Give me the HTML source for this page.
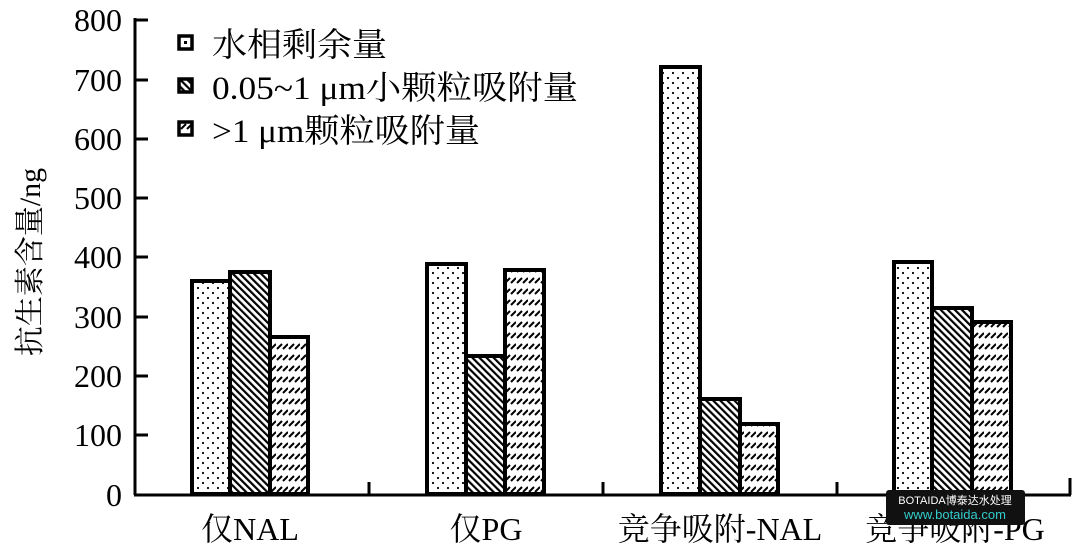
<!DOCTYPE html>
<html><head><meta charset="utf-8"><style>
html,body{margin:0;padding:0;background:#fff;width:1077px;height:554px;overflow:hidden}
text{font-family:"Liberation Serif","Noto Serif CJK SC","Noto Sans CJK SC",serif;fill:#000}
</style></head><body>
<svg width="1077" height="554" viewBox="0 0 1077 554" xmlns="http://www.w3.org/2000/svg">
<defs>
<pattern id="dots" width="10" height="10" patternUnits="userSpaceOnUse">
<rect width="10" height="10" fill="#fff"/><circle cx="3" cy="3" r="1.1" fill="#000"/><circle cx="8" cy="8" r="1.1" fill="#000"/>
</pattern>
<pattern id="diag" width="5" height="5" patternUnits="userSpaceOnUse" patternTransform="rotate(-45)">
<rect width="5" height="5" fill="#fff"/><rect width="2.2" height="5" fill="#000"/>
</pattern>
<pattern id="dash" width="12" height="11" patternUnits="userSpaceOnUse">
<rect width="12" height="11" fill="#fff"/>
<line x1="1" y1="8" x2="6" y2="3" stroke="#000" stroke-width="2"/>
<line x1="7" y1="8" x2="12" y2="3" stroke="#000" stroke-width="2"/>
</pattern>
</defs>
<g stroke="#000" stroke-width="3" fill="none">
<line x1="135" y1="18" x2="135" y2="495"/>
<line x1="134" y1="495" x2="1071" y2="495"/>
<line x1="135" y1="20" x2="148" y2="20"/>
<line x1="135" y1="80" x2="148" y2="80"/>
<line x1="135" y1="139" x2="148" y2="139"/>
<line x1="135" y1="198" x2="148" y2="198"/>
<line x1="135" y1="257" x2="148" y2="257"/>
<line x1="135" y1="317" x2="148" y2="317"/>
<line x1="135" y1="376" x2="148" y2="376"/>
<line x1="135" y1="435" x2="148" y2="435"/>
<line x1="369" y1="495" x2="369" y2="482"/>
<line x1="603" y1="495" x2="603" y2="482"/>
<line x1="837" y1="495" x2="837" y2="482"/>
<line x1="1070" y1="495" x2="1070" y2="478"/>
</g>
<g font-size="32" text-anchor="end">
<text x="122" y="31">800</text><text x="122" y="91">700</text><text x="122" y="150">600</text>
<text x="122" y="209">500</text><text x="122" y="268">400</text><text x="122" y="328">300</text>
<text x="122" y="387">200</text><text x="122" y="446">100</text><text x="122" y="506">0</text>
</g>
<text transform="translate(40,262) rotate(-90)" font-size="30" text-anchor="middle">抗生素含量/ng</text>
<g stroke="#000" stroke-width="4">
<rect x="192" y="281" width="38" height="213" fill="url(#dots)"/>
<rect x="230" y="272" width="40" height="222" fill="url(#diag)"/>
<rect x="270" y="337" width="38" height="157" fill="url(#dash)"/>
<rect x="427" y="264" width="39" height="230" fill="url(#dots)"/>
<rect x="466" y="356" width="39" height="138" fill="url(#diag)"/>
<rect x="505" y="270" width="39" height="224" fill="url(#dash)"/>
<rect x="661" y="67" width="39" height="427" fill="url(#dots)"/>
<rect x="700" y="399" width="40" height="95" fill="url(#diag)"/>
<rect x="740" y="424" width="38" height="70" fill="url(#dash)"/>
<rect x="894" y="262" width="38" height="232" fill="url(#dots)"/>
<rect x="932" y="308" width="40" height="186" fill="url(#diag)"/>
<rect x="972" y="322" width="39" height="172" fill="url(#dash)"/>
</g>
<g font-size="32" text-anchor="middle">
<text x="250" y="540">仅NAL</text>
<text x="486" y="540">仅PG</text>
<text x="720" y="540">竞争吸附-NAL</text>
<text x="955" y="540">竞争吸附-PG</text>
</g>
<g stroke="#000" stroke-width="3.5">
<rect x="179" y="36" width="13" height="13" fill="#fff"/>
<rect x="179" y="79" width="13" height="13" fill="url(#diag)"/>
<rect x="179" y="122" width="13" height="13" fill="url(#dash)"/>
</g>
<rect x="184" y="41" width="3" height="3" fill="#000"/>
<g font-size="33">
<text x="212" y="56" textLength="175" lengthAdjust="spacingAndGlyphs">水相剩余量</text>
<text x="212" y="99" textLength="366" lengthAdjust="spacingAndGlyphs">0.05~1 μm小颗粒吸附量</text>
<text x="212" y="142" textLength="268" lengthAdjust="spacingAndGlyphs">&gt;1 μm颗粒吸附量</text>
</g>
<rect x="886" y="490" width="139" height="35" rx="3" fill="#111"/>
<text x="955" y="504" font-size="11" text-anchor="middle" style="fill:#fff;font-family:'Liberation Sans','Noto Sans CJK SC',sans-serif">BOTAIDA博泰达水处理</text>
<text x="955" y="519" font-size="13" text-anchor="middle" style="fill:#3cc;font-family:'Liberation Sans',sans-serif">www.botaida.com</text>
</svg>
</body></html>
